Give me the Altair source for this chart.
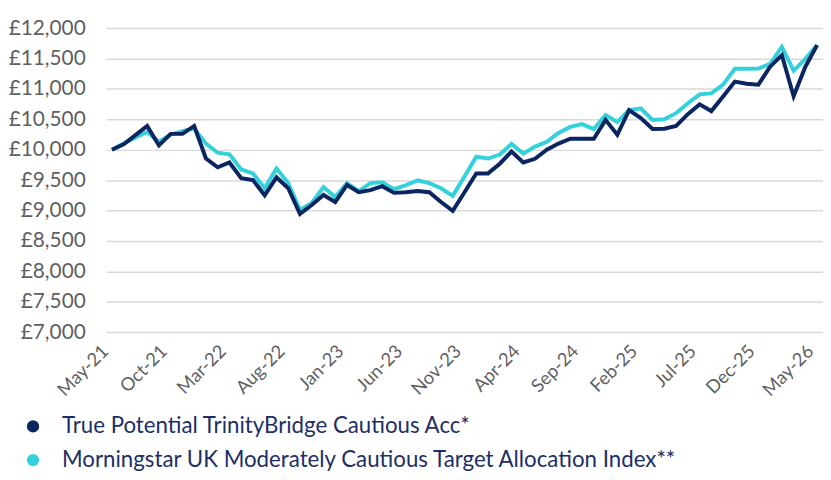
import altair as alt
import pandas as pd

months = pd.date_range("2021-05-01", "2026-05-01", freq="MS").strftime("%b-%y").tolist()

tp_name = "True Potential TrinityBridge Cautious Acc*"
ms_name = "Morningstar UK Moderately Cautious Target Allocation Index**"

tp = [10000, 10090, 10240, 10390, 10070, 10260, 10260, 10390, 9855, 9710,
      9790, 9530, 9500, 9250, 9545, 9365, 8945, 9090, 9255, 9140,
      9420, 9300, 9335, 9400, 9290, 9300, 9320, 9300, 9140, 8995,
      9300, 9610, 9610, 9770, 9970, 9790, 9850, 10000, 10100, 10180,
      10180, 10180, 10490, 10245, 10650, 10520, 10340, 10345, 10390, 10585,
      10745, 10635, 10875, 11120, 11085, 11070, 11365, 11555, 10880, 11365,
      11720]

ms = [10000, 10100, 10200, 10290, 10130, 10250, 10305, 10350, 10100, 9950,
      9925, 9675, 9610, 9365, 9690, 9450, 9010, 9125, 9385, 9220,
      9450, 9320, 9450, 9465, 9350, 9415, 9495, 9450, 9365, 9240,
      9560, 9885, 9855, 9920, 10095, 9935, 10050, 10130, 10275, 10375,
      10420, 10340, 10570, 10455, 10650, 10680, 10490, 10500, 10600, 10765,
      10910, 10925, 11070, 11330, 11330, 11335, 11410, 11690, 11300, 11495,
      11720]

y_ticks = list(range(7000, 12001, 500))

df_tp = pd.DataFrame({"month": months, "value": tp, "series": tp_name})
df_ms = pd.DataFrame({"month": months, "value": ms, "series": ms_name})

dark = "#0b2462"
cyan = "#33d1dc"
font = "Lato"

x_enc = alt.X(
    "month:O",
    sort=months,
    scale=alt.Scale(type="point", padding=0.5),
    axis=alt.Axis(
        values=months[::5], labelAngle=-45, title=None, domain=False, ticks=False,
        grid=False, labelFontSize=18.5, labelColor="#5f5f5f", labelAlign="right",
        labelBaseline="bottom", labelPadding=23, labelFont=font,
    ),
)
y_enc = alt.Y(
    "value:Q",
    scale=alt.Scale(domain=[7000, 12000], nice=False, zero=False),
    axis=alt.Axis(
        values=y_ticks, title=None, domain=False, ticks=False,
        labelExpr="'£' + format(datum.value, ',')",
        labelFontSize=21, labelColor="#5f5f5f", labelPadding=21, labelFont=font,
        gridColor="#d9d9d9", gridWidth=1.5,
    ),
)
color_enc = alt.Color(
    "series:N",
    scale=alt.Scale(domain=[tp_name, ms_name], range=[dark, cyan]),
    legend=alt.Legend(
        title=None, orient="none", legendX=-85, legendY=391, direction="vertical",
        symbolType="circle", symbolSize=40, symbolStrokeWidth=6,
        labelFontSize=22.5, labelColor="#1c2f66", labelFont=font, labelOffset=18,
        rowPadding=3, labelLimit=900,
    ),
)

line_ms = alt.Chart(df_ms).mark_line(strokeWidth=4).encode(x=x_enc, y=y_enc, color=color_enc)
line_tp = alt.Chart(df_tp).mark_line(strokeWidth=4).encode(x=x_enc, y=y_enc, color=color_enc)

chart = (
    alt.layer(line_ms, line_tp)
    .properties(
        width=724, height=307, autosize="none",
        padding={"left": 99, "top": 18, "right": 0, "bottom": 139},
    )
    .configure_view(stroke=None)
)

chart.save("out.html", embed_options={"renderer": "svg", "actions": False})
